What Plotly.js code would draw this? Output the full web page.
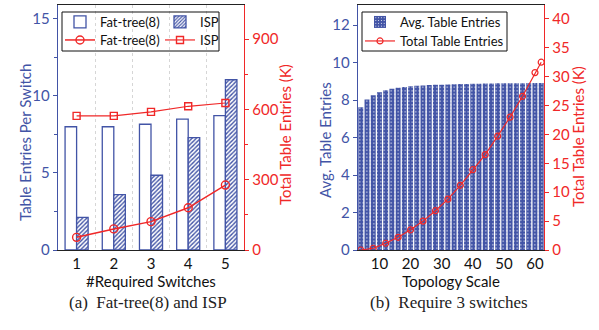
<!DOCTYPE html>
<html>
<head>
<meta charset="utf-8">
<script src="https://cdn.plot.ly/plotly-3.0.1.min.js"></script>
<style>html,body{margin:0;padding:0;background:#fff;}#chart{width:599px;height:330px;}</style>
</head>
<body>
<div id="chart"></div>
<script>
// ---- Panel (a) data ----
const switchesA = [1, 2, 3, 4, 5];
const fatTreePerSwitch = [8.0, 8.0, 8.16, 8.5, 8.72];
const ispPerSwitch = [2.12, 3.59, 4.85, 7.29, 11.05];
const fatTreeTotalK = [54, 90, 121, 180, 277];
const ispTotalK = [572, 572, 589, 613, 627];

// ---- Panel (b) data ----
const topoScaleBars = [4, 6, 8, 10, 12, 14, 16, 18, 20, 22, 24, 26, 28, 30, 32, 34, 36, 38, 40, 42, 44, 46, 48, 50, 52, 54, 56, 58, 60, 62];
const avgEntries = [7.62, 8.03, 8.25, 8.41, 8.52, 8.60, 8.66, 8.70, 8.73, 8.76, 8.78, 8.80, 8.81, 8.82, 8.83, 8.84, 8.85, 8.86, 8.87, 8.87, 8.88, 8.88, 8.89, 8.89, 8.90, 8.90, 8.90, 8.91, 8.91, 8.91];
const topoScaleLine = [4, 8, 12, 16, 20, 24, 28, 32, 36, 40, 44, 48, 52, 56, 60, 62];
const totalEntriesK = [0, 0.3, 1.17, 2.2, 3.5, 5.0, 6.8, 8.8, 11.2, 13.9, 16.5, 19.7, 23.0, 26.6, 30.7, 32.5];

const BLUE = '#4254a6';
const RED = '#f02828';
const FONT = 'Lato, "Open Sans", sans-serif';
const H = 330, W = 599;
const yDom = [(H - 250) / H, (H - 5) / H];

const traces = [
  { type: 'bar', name: 'Fat-tree(8)', x: switchesA, y: fatTreePerSwitch, xaxis: 'x', yaxis: 'y',
    marker: { color: 'white', line: { color: BLUE, width: 1.3 } }, legend: 'legend', showlegend: true },
  { type: 'bar', name: 'ISP', x: switchesA, y: ispPerSwitch, xaxis: 'x', yaxis: 'y',
    marker: { color: 'white', line: { color: BLUE, width: 1.3 },
      pattern: { shape: '/', fgcolor: BLUE, bgcolor: 'white', size: 3, solidity: 0.45, fillmode: 'replace' } },
    legend: 'legend2' },
  { type: 'scatter', mode: 'lines+markers', name: 'Fat-tree(8)', x: switchesA, y: fatTreeTotalK, xaxis: 'x', yaxis: 'y2',
    line: { color: RED, width: 1.5 }, marker: { symbol: 'circle-open', size: 8, color: RED, line: { width: 1.4 } }, legend: 'legend3' },
  { type: 'scatter', mode: 'lines+markers', name: 'ISP', x: switchesA, y: ispTotalK, xaxis: 'x', yaxis: 'y2',
    line: { color: RED, width: 1.2 }, marker: { symbol: 'square-open', size: 7, color: RED, line: { width: 1.4 } }, legend: 'legend4' },
  { type: 'bar', name: 'Avg. Table Entries', x: topoScaleBars, y: avgEntries, xaxis: 'x2', yaxis: 'y3', width: 1.6,
    marker: { color: BLUE, line: { width: 0 },
      pattern: { shape: '.', fgcolor: 'white', bgcolor: BLUE, size: 3.5, solidity: 0.12, fillmode: 'replace' } },
    legend: 'legend5' },
  { type: 'scatter', mode: 'lines+markers', name: 'Total Table Entries', x: topoScaleLine, y: totalEntriesK, xaxis: 'x2', yaxis: 'y4',
    line: { color: RED, width: 1.2 }, marker: { symbol: 'circle-open', size: 6, color: RED, line: { width: 1.2 } }, legend: 'legend6' }
];

const tickFont = (c) => ({ family: FONT, size: 15, color: c });
const titleFont = (c) => ({ family: FONT, size: 15, color: c });
const legFont = { family: FONT, size: 13, color: '#111' };

function vTitle(text, xpx, ypx, color) {
  return { text: text, xref: 'paper', yref: 'paper', x: xpx / W, y: 1 - ypx / H, textangle: -90,
    showarrow: false, xanchor: 'center', yanchor: 'middle', font: titleFont(color) };
}
function leg(xpx, ypx) {
  return { x: xpx / W, y: 1 - ypx / H, xanchor: 'left', yanchor: 'middle', bgcolor: 'rgba(0,0,0,0)',
    borderwidth: 0, font: legFont, itemwidth: 30, tracegroupgap: 0 };
}

const layout = {
  width: W, height: H,
  margin: { l: 0, r: 0, t: 0, b: 0 },
  showlegend: true,
  paper_bgcolor: 'white', plot_bgcolor: 'white',
  barmode: 'group', bargap: 0.38, bargroupgap: 0,
  font: { family: FONT, size: 13, color: '#000' },
  xaxis: {
    domain: [58 / W, 244 / W], anchor: 'y', range: [0.5, 5.5],
    tickvals: switchesA, ticks: 'outside', ticklen: 0, tickfont: tickFont('#111'),
    showline: true, linecolor: '#222', linewidth: 1.2, mirror: true, showgrid: false, zeroline: false,
    minor: { tick0: 0.5, dtick: 1, showgrid: true, griddash: '3px,3px', gridcolor: '#d6d6d6', gridwidth: 1, ticks: '' },
    title: { text: '#Required Switches', font: titleFont('#111'), standoff: 3 }
  },
  yaxis: {
    domain: yDom, anchor: 'x', range: [0, 15.9], tickvals: [0, 5, 10, 15],
    ticks: 'outside', ticklen: 4, tickcolor: BLUE, tickfont: tickFont(BLUE),
    minor: { tickvals: [2.5, 7.5, 12.5], ticks: 'outside', ticklen: 3, tickcolor: BLUE },
    showline: true, linecolor: BLUE, linewidth: 1.3, showgrid: false, zeroline: false
  },
  yaxis2: {
    overlaying: 'y', side: 'right', anchor: 'x', range: [0, 1045], tickvals: [0, 300, 600, 900],
    ticks: 'outside', ticklen: 4, tickcolor: RED, tickfont: tickFont(RED),
    minor: { tickvals: [150, 450, 750], ticks: 'outside', ticklen: 3, tickcolor: RED },
    showline: true, linecolor: RED, linewidth: 1.3, showgrid: false, zeroline: false
  },
  xaxis2: {
    domain: [358 / W, 544 / W], anchor: 'y3', range: [3.1, 62.9],
    tickvals: [10, 20, 30, 40, 50, 60], ticks: 'outside', ticklen: 0, tickfont: tickFont('#111'),
    showline: true, linecolor: '#222', linewidth: 1.2, mirror: true, showgrid: false, zeroline: false,
    title: { text: 'Topology Scale', font: titleFont('#111'), standoff: 3 }
  },
  yaxis3: {
    domain: yDom, anchor: 'x2', range: [0, 13.07], tickvals: [0, 2, 4, 6, 8, 10, 12],
    ticks: 'outside', ticklen: 4, tickcolor: BLUE, tickfont: tickFont(BLUE),
    showline: true, linecolor: BLUE, linewidth: 1.3, showgrid: false, zeroline: false
  },
  yaxis4: {
    overlaying: 'y3', side: 'right', anchor: 'x2', range: [0, 42.4], tickvals: [0, 5, 10, 15, 20, 25, 30, 35, 40],
    ticks: 'outside', ticklen: 4, tickcolor: RED, tickfont: tickFont(RED),
    showline: true, linecolor: RED, linewidth: 1.3, showgrid: false, zeroline: false
  },
  legend: leg(60, 22),
  legend2: leg(160, 22),
  legend3: leg(60, 40),
  legend4: leg(160, 40),
  legend5: leg(360, 22),
  legend6: leg(360, 41),
  shapes: [
    { type: 'rect', xref: 'paper', yref: 'paper', x0: 62 / W, x1: 219 / W, y0: 1 - 51 / H, y1: 1 - 12 / H,
      line: { color: '#111', width: 1 }, fillcolor: 'rgba(0,0,0,0)', layer: 'above' },
    { type: 'rect', xref: 'paper', yref: 'paper', x0: 362 / W, x1: 507 / W, y0: 1 - 51 / H, y1: 1 - 12 / H,
      line: { color: '#111', width: 1 }, fillcolor: 'white', layer: 'above' }
  ],
  annotations: [
    vTitle('Table Entries Per Switch', 25, 143, BLUE),
    vTitle('Total Table Entries (K)', 285, 135, RED),
    vTitle('Avg. Table Entries', 325, 140, BLUE),
    vTitle('Total Table Entries (K)', 578, 137, RED),
    { text: '(a)\u00a0\u00a0Fat-tree(8) and ISP', xref: 'paper', yref: 'paper', x: 148 / W, y: 1 - 302 / H,
      showarrow: false, xanchor: 'center', yanchor: 'middle', font: { family: '"Liberation Serif", serif', size: 17, color: '#222' } },
    { text: '(b)\u00a0\u00a0Require 3 switches', xref: 'paper', yref: 'paper', x: 449 / W, y: 1 - 302 / H,
      showarrow: false, xanchor: 'center', yanchor: 'middle', font: { family: '"Liberation Serif", serif', size: 17, color: '#222' } }
  ]
};

Plotly.newPlot('chart', traces, layout, { staticPlot: true, displayModeBar: false });
</script>
</body>
</html>
